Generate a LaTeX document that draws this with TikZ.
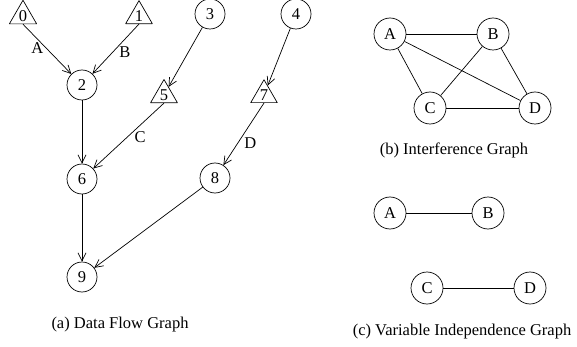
\documentclass[tikz,border=0pt]{standalone}
\usepackage{fontspec}
\setmainfont{Liberation Serif}
\usetikzlibrary{shapes.geometric,arrows.meta}

\begin{document}
\begin{tikzpicture}[
  x=1pt, y=-1pt,
  line join=round,
  every node/.style={font=\fontsize{16.5}{19}\selectfont},
  vert/.style={draw, circle, line width=0.7pt, inner sep=0pt, minimum size=30pt},
  tri/.style={draw, regular polygon, regular polygon sides=3, line width=0.7pt,
              inner sep=0pt, minimum size=29pt},
  var/.style={draw, circle, line width=0.7pt, inner sep=0pt, minimum size=32pt},
  flow/.style={line width=0.7pt, -{Straight Barb[length=8pt,width=8pt]}},
  link/.style={line width=0.7pt},
  lbl/.style={inner sep=2pt},
]
\useasboundingbox (0,0) rectangle (577,347);

% ── (a) the data flow graph ───────────────────────────────────────────────
\foreach \n/\x/\y in {0/23/16, 1/139/16, 5/164/95, 7/264/95}
  { \node[tri] (n\n) at (\x,\y) {\n}; }
\foreach \n/\x/\y in {2/82/85, 3/210/14, 4/296/14, 6/82/179, 8/215/178, 9/82/277}
  { \node[vert] (n\n) at (\x,\y) {\n}; }

\draw[flow] (n0.south) -- node[lbl, left, pos=0.47] (la) {A} (n2);
\draw[flow] (n1.south) -- node[lbl, right, pos=0.56, xshift=4pt] (lb) {B} (n2);
\draw[flow] (n3) -- (n5);
\draw[flow] (n4) -- (n7);
\draw[flow] (n2) -- (n6);
\draw[flow] (n5.south) -- node[lbl, right, pos=0.52, xshift=5pt] (lc) {C} (n6);
\draw[flow] (n7.south) -- node[lbl, right, pos=0.64, xshift=4pt] (ld) {D} (n8);
\draw[flow] (n6) -- (n9);
\draw[flow] (n8) -- (n9);

\node (capa) at (120,325) {(a) Data Flow Graph};

% ── (b) the interference graph ────────────────────────────────────────────
\foreach \v/\t/\x/\y in {a/A/390/34, b/B/493/34, c/C/430/108, d/D/535/108}
  { \node[var] (i\v) at (\x,\y) {\t}; }
\foreach \p/\q in {a/b, a/c, a/d, b/c, b/d, c/d}
  { \draw[link] (i\p) -- (i\q); }

\node (capb) at (454,150) {(b) Interference Graph};

% ── (c) the variable independence graph ───────────────────────────────────
\foreach \v/\t/\x/\y in {a/A/390/213, b/B/488/213, c/C/427/288, d/D/530/288}
  { \node[var] (v\v) at (\x,\y) {\t}; }
\draw[link] (va) -- (vb);
\draw[link] (vc) -- (vd);

\node (capc) at (462,332) {(c) Variable Independence Graph};

\end{tikzpicture}
\end{document}
